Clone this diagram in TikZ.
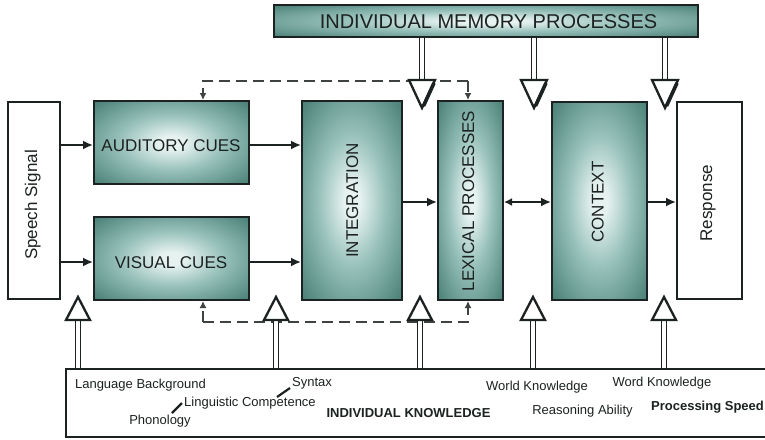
\documentclass[tikz,border=0pt]{standalone}
\usepackage{fontspec}
\setmainfont{Liberation Sans}
\usetikzlibrary{arrows.meta,calc}
\definecolor{tealdark}{RGB}{40,96,86}
\definecolor{tealmid}{RGB}{78,132,122}
\definecolor{tealsoft}{RGB}{150,192,185}
\definecolor{teallight}{RGB}{230,242,240}
\definecolor{ink}{RGB}{28,34,33}
\pgfdeclareradialshading{tealglow}{\pgfpoint{0bp}{0bp}}{color(0bp)=(teallight); color(4bp)=(teallight); color(17bp)=(tealsoft); color(34bp)=(tealmid); color(52bp)=(tealdark); color(75bp)=(tealdark)}
\tikzset{
  tbox/.style={draw=ink, line width=2pt, shading=tealglow, inner sep=0pt},
  wbox/.style={draw=ink, line width=2pt, fill=white, inner sep=0pt},
  lbl/.style={font=\fontsize{17}{17}\selectfont, text=ink, inner sep=0pt, text height=12.2pt, text depth=0pt},
  small/.style={font=\fontsize{13}{13}\selectfont, text=ink, inner sep=0pt, text height=9.4pt, text depth=2.6pt},
  smallb/.style={small, font=\fontsize{13}{13}\selectfont\bfseries},
  arr/.style={draw=ink, line width=1.8pt, -{Latex[length=10pt,width=9pt]}},
  darr/.style={draw=ink, line width=1.8pt, {Latex[length=8pt,width=8pt]}-{Latex[length=10pt,width=9pt]}},
  dasharr/.style={draw=ink!85, line width=2pt, dash pattern=on 11pt off 6pt, -{Latex[length=7pt,width=7pt]}},
  shaft/.style={draw=ink, line width=1.3pt, double=white, double distance=3.2pt},
  tri/.style={draw=ink, line width=2.3pt, fill=white, line join=miter},
}
\begin{document}
\begin{tikzpicture}[x=1pt,y=-1pt]
\useasboundingbox (0,0) rectangle (765,439);
\fill[white] (0,0) rectangle (765,439);

% boxes
\node[tbox, minimum width=424pt, minimum height=32pt] (mem) at (486,21) {};
\node[lbl, font=\fontsize{20}{20}\selectfont, text height=14.3pt] (memT) at (488.5,21.5) {INDIVIDUAL MEMORY PROCESSES};

\node[wbox, minimum width=52pt, minimum height=197pt] (speech) at (34,200.5) {};
\node[lbl, rotate=90] (speechT) at (31,205) {Speech Signal};

\node[tbox, minimum width=155pt, minimum height=83pt] (aud) at (171.5,142.5) {};
\node[lbl] (audT) at (171,145) {AUDITORY CUES};

\node[tbox, minimum width=155pt, minimum height=83pt] (vis) at (171.5,258.5) {};
\node[lbl] (visT) at (171,262) {VISUAL CUES};

\node[tbox, minimum width=100pt, minimum height=199pt] (integ) at (352,200.5) {};
\node[lbl, rotate=90] (integT) at (352,200.5) {INTEGRATION};

\node[tbox, minimum width=65pt, minimum height=199pt] (lex) at (470.5,200.5) {};
\node[lbl, rotate=90] (lexT) at (468,201) {LEXICAL PROCESSES};

\node[tbox, minimum width=95pt, minimum height=198pt] (ctx) at (599.5,201) {};
\node[lbl, rotate=90] (ctxT) at (597.5,202) {CONTEXT};

\node[wbox, minimum width=65pt, minimum height=197pt] (resp) at (709.5,200.5) {};
\node[lbl, rotate=90] (respT) at (706,203) {Response};

\node[wbox, minimum width=714pt, minimum height=68pt] (know) at (423,403) {};

% solid connectors
\coordinate (ya) at (0,145);
\coordinate (yv) at (0,262);
\coordinate (ym) at (0,202);
\draw[arr] (speech.east |- ya) -- (aud.west |- ya);
\draw[arr] (speech.east |- yv) -- (vis.west |- yv);
\draw[arr] (aud.east |- ya) -- (integ.west |- ya);
\draw[arr] (vis.east |- yv) -- (integ.west |- yv);
\draw[arr] (integ.east |- ym) -- (lex.west |- ym);
\draw[darr] (lex.east |- ym) -- (ctx.west |- ym);
\draw[arr] (ctx.east |- ym) -- (resp.west |- ym);

% dashed feedback
\coordinate (dt1) at (203,81);
\coordinate (dt2) at (468,81);
\coordinate (db1) at (203,322);
\coordinate (db2) at (468,322);
\draw[dasharr] (dt2) -- (lex.north -| dt2);
\draw[dasharr] (dt2) -- (dt1) -- (aud.north -| dt1);
\draw[dasharr] (db1) -- (vis.south -| db1);
\draw[dasharr] (db1) -- (db2) -- (lex.south -| db2);

% hollow arrows from memory processes
\foreach \x [count=\i] in {422,534,665}{
  \coordinate (mb\i) at (\x,80);
  \draw[shaft] (mem.south -| mb\i) -- (mb\i);
  \draw[tri] ($(mb\i)+(-13,0)$) -- ($(mb\i)+(13,0)$) -- ($(mb\i)+(0,28)$) -- cycle;
  \draw[draw=ink, line width=3.6pt] ($(mb\i)+(12,3)$) -- ($(mb\i)+(1.5,26)$);
}

% hollow arrows from knowledge
\foreach \x [count=\i] in {78,276,420,533,664}{
  \coordinate (kb\i) at (\x,320);
  \draw[shaft] (know.north -| kb\i) -- (kb\i);
  \draw[tri] ($(kb\i)+(-12,0)$) -- ($(kb\i)+(12,0)$) -- ($(kb\i)+(0,-23)$) -- cycle;
}

% knowledge texts
\node[small] (lang) at (140.5,385) {Language Background};
\node[small] (syn) at (312,383) {Syntax};
\node[small] (ling) at (250,403) {Linguistic Competence};
\node[small] (phon) at (160,421) {Phonology};
\node[smallb] (indk) at (408.5,414) {INDIVIDUAL KNOWLEDGE};
\node[small] (world) at (537,387) {World Knowledge};
\node[small] (reas) at (582.5,411) {Reasoning Ability};
\node[small] (word) at (662,383) {Word Knowledge};
\node[smallb] (proc) at (707.5,407) {Processing Speed};
\coordinate (pl1) at (172,413);
\coordinate (pl2) at (182,403);
\coordinate (sl1) at (277,397);
\coordinate (sl2) at (290,388);
\draw[draw=ink, line width=2.2pt] (pl1) -- (pl2);
\draw[draw=ink, line width=2.2pt] (sl1) -- (sl2);
\end{tikzpicture}
\end{document}
